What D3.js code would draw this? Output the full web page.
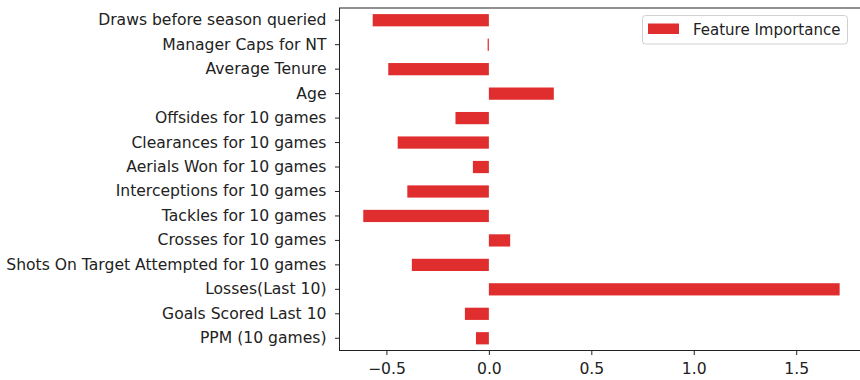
<!DOCTYPE html>
<html><head><meta charset="utf-8">
<script src="https://cdn.jsdelivr.net/npm/d3@7"></script>
<style>body{margin:0;background:#fff}svg{display:block}text{font-family:"DejaVu Sans",sans-serif;fill:#222}</style>
</head><body><svg id="c" width="860" height="380"></svg>
<script>
const categories = ["Draws before season queried","Manager Caps for NT","Average Tenure","Age","Offsides for 10 games","Clearances for 10 games","Aerials Won for 10 games","Interceptions for 10 games","Tackles for 10 games","Crosses for 10 games","Shots On Target Attempted for 10 games","Losses(Last 10)","Goals Scored Last 10","PPM (10 games)"];
const importance = [-0.567,-0.006,-0.491,0.317,-0.163,-0.445,-0.078,-0.398,-0.613,0.104,-0.376,1.712,-0.117,-0.063];
const xTicks = [-0.5,0.0,0.5,1.0,1.5];
const seriesName = "Feature Importance";

const svg = d3.select("#c");
const L=339.5, R=863, T=8, B=350.5;
const color="#e02e2e";
const FS=15.6;
const x = d3.scaleLinear().domain([-0.729,1.826]).range([L,R]);
const y = d3.scaleBand().domain(categories).range([T,B]).paddingInner(0.5).paddingOuter(0.25);

svg.append("g").selectAll("rect").data(importance).join("rect")
  .attr("x",(d)=>x(Math.min(0,d))).attr("width",d=>Math.abs(x(d)-x(0)))
  .attr("y",(d,i)=>y(categories[i])).attr("height",y.bandwidth()).attr("fill",color);

const ax = svg.append("g").attr("transform",`translate(0,${B})`)
  .call(d3.axisBottom(x).tickValues(xTicks).tickFormat(d=>d3.format(".1f")(d).replace("-","\u2212")).tickSize(4.5).tickPadding(8));
ax.select(".domain").remove();
ax.selectAll("text").attr("font-size",FS).style("font-family","DejaVu Sans").attr("fill","#222");
ax.selectAll("line").attr("stroke","#222");

const ay = svg.append("g").attr("transform",`translate(${L},0)`)
  .call(d3.axisLeft(y).tickSize(4.5).tickPadding(8.5));
ay.select(".domain").remove();
ay.selectAll("text").attr("font-size",FS).style("font-family","DejaVu Sans").attr("fill","#222");
ay.selectAll("line").attr("stroke","#222");

// spines
svg.append("rect").attr("x",L).attr("y",T).attr("width",R-L).attr("height",B-T)
  .attr("fill","none").attr("stroke","#222").attr("stroke-width",1);

// legend
const lg = svg.append("g");
lg.append("rect").attr("x",642.5).attr("y",15.5).attr("width",205).attr("height",28.5).attr("rx",3)
  .attr("fill","#fff").attr("stroke","#d0d0d0");
lg.append("rect").attr("x",648).attr("y",23.5).attr("width",31).attr("height",10.5).attr("fill",color);
lg.append("text").attr("x",693).attr("y",29.5).attr("dy","0.35em").attr("font-size",15).text(seriesName);
</script></body></html>
